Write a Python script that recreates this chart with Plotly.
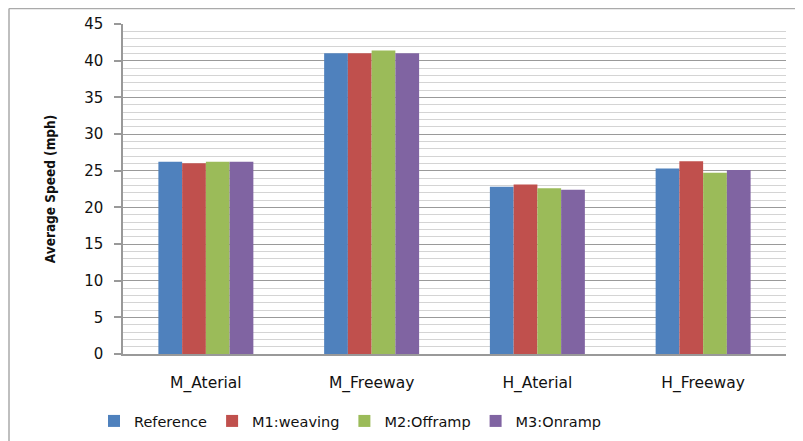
import plotly.graph_objects as go

categories = ["M_Aterial", "M_Freeway", "H_Aterial", "H_Freeway"]
series_names = ["Reference", "M1:weaving", "M2:Offramp", "M3:Onramp"]
reference = [26.2, 41.0, 22.8, 25.3]
m1_weaving = [26.0, 41.0, 23.1, 26.3]
m2_offramp = [26.2, 41.4, 22.6, 24.7]
m3_onramp = [26.2, 41.0, 22.4, 25.1]
y_ticks = [0, 5, 10, 15, 20, 25, 30, 35, 40, 45]

colors = ["#4F81BD", "#C0504D", "#9BBB59", "#8064A2"]
series = [reference, m1_weaving, m2_offramp, m3_onramp]

fig = go.Figure()
for name, vals, col in zip(series_names, series, colors):
    fig.add_trace(go.Bar(x=categories, y=vals, name=name,
                         marker=dict(color=col, line=dict(width=0))))

OFF = 8  # page body margin
W, H = 803 - OFF, 441 - OFF
L, R, T, B = 123 - OFF, 786 - OFF, 24 - OFF, 354 - OFF
pw, ph = R - L, B - T

fig.update_layout(
    width=W, height=H,
    margin=dict(l=L, r=W - R, t=T, b=H - B, autoexpand=False),
    paper_bgcolor="white", plot_bgcolor="white",
    barmode="group", bargap=0.427, bargroupgap=0,
    font=dict(family="DejaVu Sans, Verdana, sans-serif", size=14, color="#111"),
    legend=dict(orientation="h", x=(94 - OFF - L) / pw, xanchor="left",
                y=(B - (405 - OFF)) / ph, yanchor="top",
                font=dict(size=14.5), itemwidth=30,
                bgcolor="rgba(0,0,0,0)"),
    showlegend=True,
)

fig.update_yaxes(
    range=[0, 45], tickvals=y_ticks, ticktext=[str(v) for v in y_ticks],
    showline=True, linecolor="#999", linewidth=1.5,
    ticks="outside", ticklen=7, tickcolor="#999", tickwidth=1.5,
    showgrid=True, gridcolor="#9a9a9a", gridwidth=1.2,
    minor=dict(dtick=1, showgrid=True, gridcolor="#d4d4d4", gridwidth=1.2, ticks=""),
    zeroline=False, ticklabelstandoff=8, tickfont=dict(size=15),
    automargin=False,
    title=dict(text="<b>Average Speed (mph)</b>", standoff=25,
               font=dict(family="Liberation Sans Narrow, DejaVu Sans Condensed, Arial Narrow, sans-serif", size=13.5, color="#111")),
)
fig.update_xaxes(
    showline=True, linecolor="#999", linewidth=1.5, ticks="",
    showgrid=False, ticklabelstandoff=14, tickfont=dict(size=15.5),
    automargin=False,
)

# chart frame (left and top edges)
fx0 = (9 - OFF - L) / pw
fy0 = (B - max(7 - OFF, 0.5)) / ph
fig.add_shape(type="line", xref="paper", yref="paper",
              x0=fx0, x1=fx0, y0=fy0, y1=(B - H) / ph,
              line=dict(color="#aaa", width=1.5))
fig.add_shape(type="line", xref="paper", yref="paper",
              x0=fx0, x1=(W - L) / pw, y0=fy0, y1=fy0,
              line=dict(color="#aaa", width=1.5))

fig.write_html("out.html")
